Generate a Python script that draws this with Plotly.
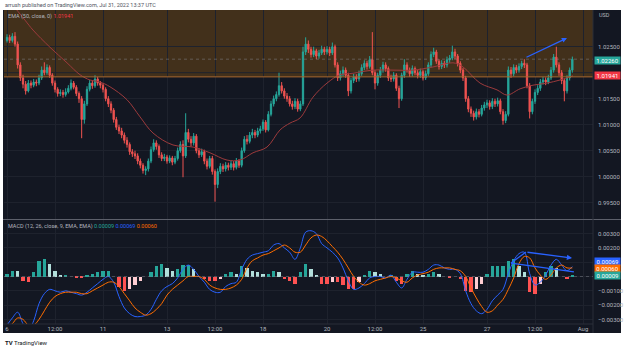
import plotly.graph_objects as go

# ---------------- data (2h candles, index 0 = Jul 6 00:00) ----------------
close = [
 1.0268, 1.0262, 1.0270, 1.0255, 1.0215, 1.0190, 1.0178, 1.0165, 1.0180, 1.0176, 1.0182, 1.0180,
 1.0190, 1.0205, 1.0200, 1.0210, 1.0195, 1.0180, 1.0168, 1.0160, 1.0162, 1.0158, 1.0163, 1.0170,
 1.0180, 1.0172, 1.0160, 1.0150, 1.0110, 1.0140, 1.0168, 1.0180, 1.0175, 1.0188, 1.0180, 1.0176,
 1.0168, 1.0150, 1.0140, 1.0128, 1.0110, 1.0095, 1.0088, 1.0080, 1.0070, 1.0062, 1.0048, 1.0044,
 1.0040, 1.0030, 1.0022, 1.0012, 1.0015, 1.0030, 1.0052, 1.0065, 1.0058, 1.0042, 1.0035, 1.0038,
 1.0030, 1.0036, 1.0028, 1.0035, 1.0050, 1.0062, 1.0040, 1.0085, 1.0072, 1.0065, 1.0078, 1.0050,
 1.0042, 1.0048, 1.0030, 1.0020, 1.0035, 1.0010, 0.9985, 1.0010, 1.0020, 1.0015, 1.0022, 1.0018,
 1.0025, 1.0018, 1.0030, 1.0022, 1.0050, 1.0072, 1.0068, 1.0080, 1.0085, 1.0080, 1.0088, 1.0092,
 1.0105, 1.0090, 1.0120, 1.0140, 1.0150, 1.0158, 1.0175, 1.0165, 1.0155, 1.0150, 1.0140, 1.0135,
 1.0145, 1.0130, 1.0140, 1.0240, 1.0255, 1.0245, 1.0235, 1.0242, 1.0232, 1.0238, 1.0245, 1.0240,
 1.0245, 1.0238, 1.0250, 1.0215, 1.0190, 1.0198, 1.0205, 1.0195, 1.0165, 1.0185, 1.0192, 1.0188,
 1.0198, 1.0210, 1.0218, 1.0212, 1.0225, 1.0200, 1.0180, 1.0195, 1.0205, 1.0215, 1.0208, 1.0190,
 1.0188, 1.0195, 1.0170, 1.0150, 1.0195, 1.0215, 1.0205, 1.0198, 1.0208, 1.0200, 1.0195, 1.0202,
 1.0190, 1.0198, 1.0215, 1.0235, 1.0240, 1.0222, 1.0212, 1.0218, 1.0215, 1.0225, 1.0228, 1.0240,
 1.0232, 1.0218, 1.0205, 1.0190, 1.0150, 1.0130, 1.0122, 1.0115, 1.0125, 1.0120, 1.0132, 1.0138,
 1.0142, 1.0135, 1.0145, 1.0140, 1.0146, 1.0125, 1.0108, 1.0120, 1.0205, 1.0198, 1.0210, 1.0205,
 1.0212, 1.0218, 1.0215, 1.0175, 1.0125, 1.0145, 1.0162, 1.0170, 1.0182, 1.0186, 1.0182, 1.0190,
 1.0205, 1.0230, 1.0215, 1.0200, 1.0185, 1.0165, 1.0190, 1.0205, 1.0226]

high = [
 1.0274, 1.0273, 1.0276, 1.0278, 1.0260, 1.0220, 1.0196, 1.0184, 1.0186, 1.0185, 1.0188, 1.0187,
 1.0196, 1.0212, 1.0220, 1.0216, 1.0214, 1.0199, 1.0185, 1.0172, 1.0168, 1.0167, 1.0170, 1.0176,
 1.0187, 1.0184, 1.0176, 1.0164, 1.0155, 1.0146, 1.0174, 1.0186, 1.0185, 1.0195, 1.0192, 1.0184,
 1.0180, 1.0172, 1.0155, 1.0145, 1.0132, 1.0115, 1.0100, 1.0094, 1.0085, 1.0076, 1.0066, 1.0053,
 1.0050, 1.0045, 1.0035, 1.0026, 1.0020, 1.0035, 1.0058, 1.0072, 1.0070, 1.0062, 1.0047, 1.0044,
 1.0042, 1.0041, 1.0040, 1.0040, 1.0056, 1.0068, 1.0070, 1.0122, 1.0092, 1.0078, 1.0084, 1.0082,
 1.0055, 1.0054, 1.0052, 1.0035, 1.0040, 1.0040, 1.0014, 1.0016, 1.0026, 1.0025, 1.0028, 1.0027,
 1.0031, 1.0030, 1.0036, 1.0034, 1.0056, 1.0078, 1.0080, 1.0086, 1.0092, 1.0090, 1.0094, 1.0098,
 1.0110, 1.0109, 1.0126, 1.0146, 1.0156, 1.0164, 1.0200, 1.0182, 1.0170, 1.0161, 1.0155, 1.0146,
 1.0151, 1.0150, 1.0146, 1.0250, 1.0268, 1.0262, 1.0250, 1.0250, 1.0246, 1.0244, 1.0252, 1.0250,
 1.0251, 1.0250, 1.0258, 1.0254, 1.0220, 1.0204, 1.0212, 1.0210, 1.0200, 1.0190, 1.0198, 1.0197,
 1.0204, 1.0216, 1.0224, 1.0223, 1.0232, 1.0278, 1.0205, 1.0200, 1.0211, 1.0221, 1.0220, 1.0212,
 1.0196, 1.0201, 1.0199, 1.0175, 1.0200, 1.0226, 1.0220, 1.0210, 1.0214, 1.0212, 1.0205, 1.0208,
 1.0206, 1.0204, 1.0220, 1.0241, 1.0248, 1.0244, 1.0226, 1.0224, 1.0223, 1.0231, 1.0234, 1.0252,
 1.0246, 1.0236, 1.0222, 1.0209, 1.0194, 1.0155, 1.0135, 1.0127, 1.0131, 1.0130, 1.0138, 1.0144,
 1.0148, 1.0147, 1.0151, 1.0150, 1.0152, 1.0150, 1.0130, 1.0126, 1.0212, 1.0211, 1.0216, 1.0215,
 1.0218, 1.0223, 1.0226, 1.0219, 1.0180, 1.0150, 1.0168, 1.0176, 1.0188, 1.0192, 1.0191, 1.0196,
 1.0211, 1.0236, 1.0250, 1.0220, 1.0205, 1.0189, 1.0195, 1.0210, 1.0231]

low = [
 1.0258, 1.0257, 1.0258, 1.0250, 1.0208, 1.0184, 1.0170, 1.0158, 1.0162, 1.0170, 1.0172, 1.0174,
 1.0176, 1.0186, 1.0195, 1.0196, 1.0190, 1.0175, 1.0162, 1.0154, 1.0155, 1.0152, 1.0154, 1.0160,
 1.0166, 1.0168, 1.0155, 1.0142, 1.0074, 1.0102, 1.0136, 1.0164, 1.0169, 1.0171, 1.0175, 1.0170,
 1.0162, 1.0145, 1.0134, 1.0122, 1.0104, 1.0090, 1.0082, 1.0074, 1.0064, 1.0056, 1.0042, 1.0038,
 1.0034, 1.0024, 1.0016, 1.0006, 1.0003, 1.0010, 1.0026, 1.0048, 1.0052, 1.0036, 1.0030, 1.0030,
 1.0025, 1.0026, 1.0022, 1.0024, 1.0031, 1.0046, 0.9999, 1.0036, 1.0066, 1.0058, 1.0060, 1.0045,
 1.0036, 1.0038, 1.0024, 1.0014, 1.0016, 1.0004, 0.9952, 0.9978, 1.0005, 1.0009, 1.0010, 1.0012,
 1.0013, 1.0012, 1.0014, 1.0017, 1.0018, 1.0046, 1.0062, 1.0064, 1.0074, 1.0074, 1.0076, 1.0083,
 1.0088, 1.0085, 1.0087, 1.0116, 1.0135, 1.0145, 1.0154, 1.0160, 1.0150, 1.0144, 1.0135, 1.0129,
 1.0130, 1.0125, 1.0126, 1.0136, 1.0234, 1.0238, 1.0229, 1.0230, 1.0226, 1.0227, 1.0234, 1.0234,
 1.0235, 1.0232, 1.0234, 1.0210, 1.0184, 1.0185, 1.0193, 1.0190, 1.0155, 1.0160, 1.0180, 1.0182,
 1.0183, 1.0194, 1.0205, 1.0206, 1.0208, 1.0195, 1.0168, 1.0175, 1.0190, 1.0200, 1.0202, 1.0184,
 1.0182, 1.0183, 1.0165, 1.0132, 1.0146, 1.0190, 1.0200, 1.0192, 1.0193, 1.0195, 1.0189, 1.0190,
 1.0185, 1.0186, 1.0194, 1.0210, 1.0230, 1.0217, 1.0206, 1.0207, 1.0209, 1.0210, 1.0219, 1.0224,
 1.0226, 1.0212, 1.0199, 1.0184, 1.0144, 1.0124, 1.0115, 1.0108, 1.0110, 1.0114, 1.0116, 1.0127,
 1.0132, 1.0129, 1.0130, 1.0134, 1.0135, 1.0120, 1.0100, 1.0103, 1.0116, 1.0190, 1.0193, 1.0199,
 1.0200, 1.0207, 1.0209, 1.0170, 1.0112, 1.0120, 1.0140, 1.0157, 1.0165, 1.0177, 1.0176, 1.0178,
 1.0186, 1.0200, 1.0210, 1.0194, 1.0178, 1.0145, 1.0160, 1.0185, 1.0200]

first_open = 1.0262
opn = [first_open] + close[:-1]
idx = list(range(len(close)))

# EMA(50)
ema_idx = [0, 6.75, 9.75, 16.1, 22.5, 27.4, 31.1, 34.9, 38.6, 45, 49.9, 54.75, 62.25, 69.75,
           76.1, 82.5, 87.4, 92.25, 97.5, 102.4, 106.1, 109.9, 114.75, 120, 124.9, 129.75,
           137.25, 144.75, 152.25, 159.75, 167.25, 171, 177.4, 183.75, 187.5, 192.4, 197.25,
           202.5, 207.4, 212.25]
ema_val = [1.0344, 1.0301, 1.0282, 1.0249, 1.0219, 1.0196, 1.0186, 1.0182, 1.0173, 1.0148,
           1.0115, 1.0084, 1.0061, 1.0057, 1.0046, 1.0032, 1.0032, 1.0046, 1.0057, 1.0090,
           1.0103, 1.0113, 1.0153, 1.0180, 1.0196, 1.0199, 1.0205, 1.0205, 1.0205, 1.0211,
           1.0219, 1.0211, 1.0180, 1.0167, 1.0157, 1.0169, 1.0176, 1.0180, 1.0186, 1.0194]

# MACD (12,26,9) read every 2 candles
macd_idx = list(range(0, 213, 2))
macd = [
 -0.0034, -0.0029, -0.0025, -0.0033, -0.0038, -0.0031, -0.0019, -0.0012, -0.0009, -0.0010,
 -0.0011, -0.0010, -0.0011, -0.0012, -0.0013, -0.0011, -0.0008, -0.0005, -0.0002, 0.0000,
 -0.0004, -0.0014, -0.0022, -0.0026, -0.0028, -0.0028, -0.0027, -0.0023, -0.0016, -0.0010,
 -0.0007, -0.0005, -0.0001, 0.0005, 0.0008, 0.0005, 0.0000, -0.0004, -0.0009, -0.0011,
 -0.0011, -0.0007, -0.0005, -0.0004, 0.0005, 0.0012, 0.0015, 0.0016, 0.0017, 0.0018,
 0.0022, 0.0023, 0.0020, 0.0017, 0.0012, 0.0020, 0.0031, 0.0032, 0.0030, 0.0023,
 0.0020, 0.0017, 0.0013, 0.0006, -0.0003, -0.0009, -0.0008, -0.0005, -0.0001, 0.0000,
 0.0000, -0.0001, 0.0001, -0.0004, -0.0008, -0.0002, 0.0003, 0.0003, 0.0003, 0.0005,
 0.0008, 0.0008, 0.0006, 0.0005, 0.0005, 0.0002, -0.0010, -0.0019, -0.0024, -0.0026,
 -0.0023, -0.0017, -0.0013, -0.0009, 0.0002, 0.0011, 0.0016, 0.0017, 0.0002, -0.0006,
 -0.0004, 0.0001, 0.0008, 0.0012, 0.0008, 0.0004, 0.00069]
signal = [
 -0.0036, -0.0033, -0.0029, -0.0030, -0.0034, -0.0034, -0.0030, -0.0024, -0.0018, -0.0014,
 -0.0012, -0.0011, -0.0011, -0.0011, -0.0012, -0.0012, -0.0010, -0.0008, -0.0006, -0.0004,
 -0.0004, -0.0007, -0.0012, -0.0017, -0.0022, -0.0025, -0.0027, -0.0026, -0.0023, -0.0019,
 -0.0013, -0.0009, -0.0006, -0.0003, 0.0000, 0.0000, 0.0000, -0.0002, -0.0006, -0.0008,
 -0.0009, -0.0009, -0.0008, -0.0006, -0.0002, 0.0006, 0.0011, 0.0013, 0.0015, 0.0016,
 0.0018, 0.0020, 0.0022, 0.0020, 0.0017, 0.0017, 0.0022, 0.0027, 0.0029, 0.0028,
 0.0025, 0.0021, 0.0017, 0.0012, 0.0006, 0.0000, -0.0004, -0.0006, -0.0005, -0.0003,
 -0.0002, -0.0001, 0.0000, -0.0001, -0.0003, -0.0004, -0.0001, 0.0001, 0.0002, 0.0003,
 0.0005, 0.0006, 0.0006, 0.0006, 0.0005, 0.0004, 0.0000, -0.0008, -0.0015, -0.0021,
 -0.0025, -0.0024, -0.0020, -0.0016, -0.0009, -0.0001, 0.0009, 0.0014, 0.0013, 0.0006,
 0.0001, -0.0002, 0.0001, 0.0006, 0.0008, 0.0006, 0.00060]

time_tick_idx = [0, 18, 36, 60, 78, 96, 120, 138, 156, 180, 198, 216]
time_tick_txt = ["6", "12:00", "11", "13", "12:00", "18", "20", "12:00", "25", "27", "12:00", "Aug"]
price_ticks = [0.995, 1.000, 1.005, 1.010, 1.015, 1.025]
price_grid = [1.020]
macd_ticks = [-0.003, -0.002, -0.001, 0.0, 0.001, 0.002, 0.003]
zone_low = 1.0192
last_price = 1.02260
ema_last = 1.01941
macd_last, signal_last, hist_last = 0.00069, 0.00060, 0.00009

# ---------------- derived ----------------
hist = [m - s for m, s in zip(macd, signal)]
hcol = []
for i, h in enumerate(hist):
    prev = hist[i - 1] if i > 0 else h
    if h >= 0:
        hcol.append("#26a69a" if h >= prev else "#b2dfdb")
    else:
        hcol.append("#ff5252" if h <= prev else "#ffcdd2")

W, H = 625, 349
def fx(p): return p / W
def fy(p): return 1 - p / H

X0, X1 = -1.125, 219.75
BG = "#131722"
GRID = "#1e222d"
TXT = "#b2b5be"
FONT = "Roboto"

fig = go.Figure()
fig.add_trace(go.Candlestick(
    x=idx, open=opn, high=high, low=low, close=close,
    increasing=dict(line=dict(color="#26a69a", width=1), fillcolor="#26a69a"),
    decreasing=dict(line=dict(color="#ef5350", width=1), fillcolor="#ef5350"),
    whiskerwidth=0, xaxis="x", yaxis="y", showlegend=False, hoverinfo="skip"))
fig.add_trace(go.Scatter(x=ema_idx, y=ema_val, mode="lines", line=dict(color="#9c3a3c", width=1, shape="spline"),
                         xaxis="x", yaxis="y", showlegend=False, hoverinfo="skip"))
fig.add_trace(go.Bar(x=macd_idx, y=hist, marker=dict(color=hcol, line=dict(width=0)), width=1.2,
                     xaxis="x", yaxis="y2", showlegend=False, hoverinfo="skip"))
fig.add_trace(go.Scatter(x=macd_idx, y=macd, mode="lines", line=dict(color="#2962ff", width=1, shape="spline"),
                         xaxis="x", yaxis="y2", showlegend=False, hoverinfo="skip"))
fig.add_trace(go.Scatter(x=macd_idx, y=signal, mode="lines", line=dict(color="#ff6d00", width=1, shape="spline"),
                         xaxis="x", yaxis="y2", showlegend=False, hoverinfo="skip"))

shapes = [
    dict(type="rect", xref="paper", yref="paper", x0=fx(3), x1=fx(621), y0=fy(333), y1=fy(10),
         fillcolor=BG, line=dict(width=0), layer="below"),
    dict(type="rect", xref="x", yref="y", x0=X0, x1=X1, y0=zone_low, y1=1.0321,
         fillcolor="rgba(255,152,0,0.2)", line=dict(width=0), layer="below"),
    dict(type="line", xref="x", yref="y", x0=X0, x1=X1, y0=zone_low, y1=zone_low,
         line=dict(color="#a86a30", width=1)),
    dict(type="line", xref="x", yref="y", x0=X0, x1=X1, y0=last_price, y1=last_price,
         line=dict(color="rgba(140,143,155,0.45)", width=1, dash="dot")),
    dict(type="line", xref="paper", yref="paper", x0=fx(3), x1=fx(621), y0=fy(219.5), y1=fy(219.5),
         line=dict(color="#5d606b", width=1)),
    dict(type="line", xref="paper", yref="paper", x0=fx(593), x1=fx(593), y0=fy(333), y1=fy(10),
         line=dict(color="#2a2e39", width=1)),
    dict(type="line", xref="paper", yref="paper", x0=fx(3), x1=fx(593), y0=fy(324), y1=fy(324),
         line=dict(color="#2a2e39", width=1)),
    dict(type="line", xref="x", yref="y2", x0=X0, x1=X1, y0=0, y1=0,
         line=dict(color="rgba(120,123,134,0.5)", width=1, dash="dot")),
    # MACD pane drawings
    dict(type="line", xref="x", yref="y2", x0=189, y0=0.00094, x1=212.6, y1=0.00032,
         line=dict(color="#2962ff", width=1.3)),
    dict(type="line", xref="x", yref="y2", x0=189, y0=0.00094, x1=194.6, y1=0.00171,
         line=dict(color="#2962ff", width=1.3)),
]
for g in price_grid:
    shapes.append(dict(type="line", xref="x", yref="y", x0=X0, x1=X1, y0=g, y1=g,
                       line=dict(color=GRID, width=1), layer="below"))

def lab(ypx, text, bg, fg="#ffffff"):
    return dict(xref="paper", yref="paper", x=fx(594), y=fy(ypx), xanchor="left", yanchor="middle",
                text=text, showarrow=False, bgcolor=bg, font=dict(family=FONT, size=6, color=fg),
                width=25, height=7, borderpad=0, align="center")

annotations = [
    dict(xref="paper", yref="paper", x=fx(3), y=fy(5), xanchor="left", yanchor="middle", showarrow=False,
         text="arrush published on TradingView.com, Jul 31, 2022 13:37 UTC",
         font=dict(family=FONT, size=5.5, color="#50535e")),
    dict(xref="paper", yref="paper", x=fx(6), y=fy(16), xanchor="left", yanchor="middle", showarrow=False,
         text='EMA (50, close, 0) <span style="color:#f23645">%.5f</span>' % ema_last,
         font=dict(family=FONT, size=5.5, color=TXT)),
    dict(xref="paper", yref="paper", x=fx(6), y=fy(226), xanchor="left", yanchor="middle", showarrow=False,
         text='MACD (12, 26, close, 9, EMA, EMA) <span style="color:#26a69a">%.5f</span> '
              '<span style="color:#2962ff">%.5f</span> <span style="color:#ff6d00">%.5f</span>'
              % (hist_last, macd_last, signal_last),
         font=dict(family=FONT, size=5.5, color=TXT)),
    dict(xref="paper", yref="paper", x=fx(597), y=fy(15), xanchor="left", yanchor="middle", showarrow=False,
         text="USD", font=dict(family=FONT, size=5.5, color=TXT)),
    dict(xref="paper", yref="paper", x=fx(3), y=fy(342), xanchor="left", yanchor="middle", showarrow=False,
         text='<b>TV</b> TradingView', font=dict(family=FONT, size=6, color="#131722")),
    lab(61, "%.5f" % last_price, "#26a69a"),
    lab(75, "%.5f" % ema_last, "#f23645"),
    lab(261.7, "%.5f" % macd_last, "#2962ff"),
    lab(268.3, "%.5f" % signal_last, "#ff6d00"),
    lab(275, "%.5f" % hist_last, "#26a69a"),
    # arrows
    dict(xref="x", yref="y", axref="x", ayref="y", x=210, y=1.02667, ax=194.25, ay=1.02283,
         showarrow=True, arrowhead=2, arrowsize=0.8, arrowwidth=1.3, arrowcolor="#2962ff", text=""),
    dict(xref="x", yref="y2", axref="x", ayref="y2", x=211.9, y=0.00129, ax=194.6, ay=0.00171,
         showarrow=True, arrowhead=2, arrowsize=0.8, arrowwidth=1.3, arrowcolor="#2962ff", text=""),
]

fig.update_layout(
    width=W, height=H, margin=dict(l=0, r=0, t=0, b=0),
    paper_bgcolor="white", plot_bgcolor=BG, bargap=0,
    font=dict(family=FONT, size=6, color=TXT),
    shapes=shapes, annotations=annotations,
    xaxis=dict(domain=[fx(4), fx(593)], range=[X0, X1], anchor="y2", tickvals=time_tick_idx,
               ticktext=time_tick_txt, showgrid=True, gridcolor=GRID, gridwidth=1, zeroline=False,
               showline=False, ticks="", tickfont=dict(family=FONT, size=6, color=TXT),
               rangeslider=dict(visible=False), fixedrange=True),
    yaxis=dict(domain=[fy(219), fy(10)], range=[0.991865, 1.032058], side="right", anchor="x",
               tickvals=price_ticks, tickformat=".5f", showgrid=True, gridcolor=GRID, zeroline=False,
               showline=False, ticks="", ticklabelstandoff=4, tickfont=dict(family=FONT, size=6, color=TXT)),
    yaxis2=dict(domain=[fy(324), fy(220)], range=[-0.003322, 0.003951], side="right", anchor="x",
                tickvals=macd_ticks, tickformat=".5f", showgrid=True, gridcolor=GRID, zeroline=False,
                showline=False, ticks="", ticklabelstandoff=4, tickfont=dict(family=FONT, size=6, color=TXT)),
)

fig.write_html("out.html")
